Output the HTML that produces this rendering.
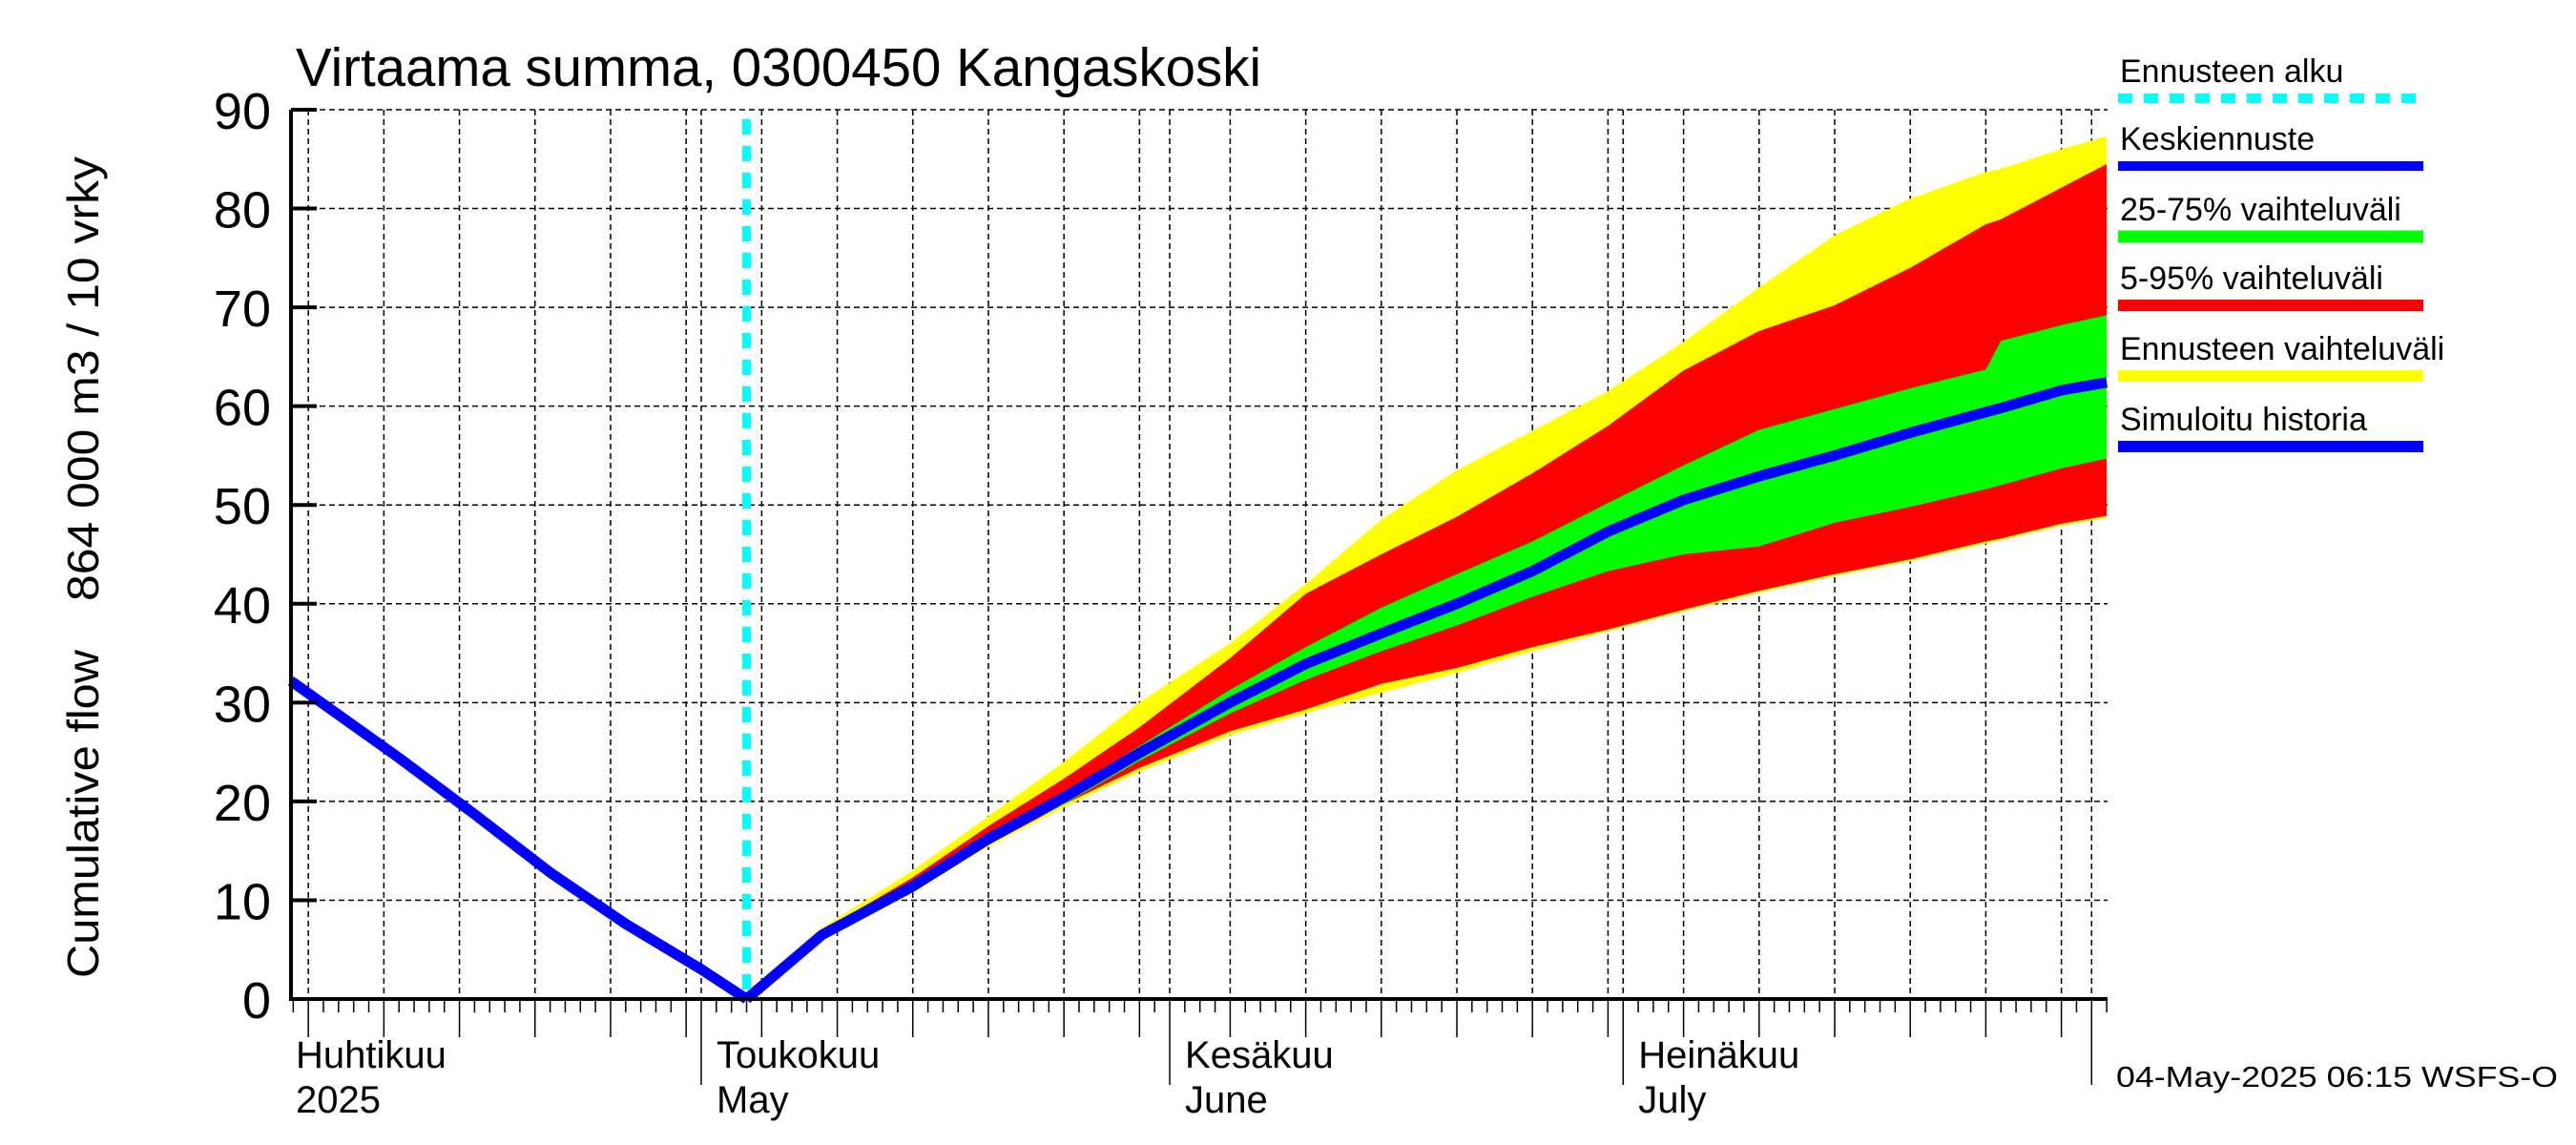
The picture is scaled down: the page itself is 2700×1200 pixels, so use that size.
<!DOCTYPE html>
<html><head><meta charset="utf-8"><style>
html,body{margin:0;padding:0;background:#fff;}
svg{display:block;font-family:"Liberation Sans",sans-serif;}
</style></head><body>
<svg id="chart" width="2700" height="1200" viewBox="0 0 2700 1200" xmlns="http://www.w3.org/2000/svg">
<rect width="2700" height="1200" fill="#fff"/>
<text x="310" y="90" font-size="57" textLength="1012" lengthAdjust="spacingAndGlyphs">Virtaama summa, 0300450 Kangaskoski</text>
<text transform="translate(103,1025) rotate(-90)" font-size="46" textLength="344" lengthAdjust="spacingAndGlyphs">Cumulative flow</text>
<text transform="translate(103,630) rotate(-90)" font-size="46" textLength="466" lengthAdjust="spacingAndGlyphs">864 000 m3 / 10 vrky</text>
<g id="grid"></g>
<g id="bands"></g>
<g id="lines"></g>
<g id="axes"></g>
<g id="legend"></g>
<text x="2218" y="1139" font-size="31" textLength="463" lengthAdjust="spacingAndGlyphs">04-May-2025 06:15 WSFS-O</text>
</svg>
<script>
// days since April 1, 2025
const histDays = [2.85, 10, 15, 20, 25, 30, 33];
const histValues = [32.2, 24.4, 18.7, 12.8, 7.6, 3, 0];
const fcDays = [33, 38, 44, 49, 54, 59, 65, 70, 75, 80, 85, 90, 95, 100, 105, 110, 115, 116, 120, 123];
const yellowMax = [0, 7.2, 13, 18.5, 24, 30, 36, 42, 48.5, 53.5, 57.5, 61.5, 66.5, 72, 77.3, 81, 83.7, 84, 86, 87.3];
const p95 = [0, 6.9, 12.3, 17.5, 22.3, 27.5, 34.5, 41, 45, 48.8, 53.2, 58, 63.6, 67.6, 70.2, 74, 78.4, 78.9, 82.1, 84.5];
const p75 = [0, 6.7, 11.8, 16.6, 20.8, 25.6, 31.3, 35.6, 39.6, 43, 46.3, 50.2, 54, 57.6, 59.7, 61.8, 63.7, 66.6, 68.2, 69.2];
const median = [0, 6.5, 11.4, 16.2, 20.4, 24.9, 30, 33.9, 37, 40, 43.3, 47.3, 50.5, 52.9, 55, 57.3, 59.4, 59.8, 61.6, 62.4];
const p25 = [0, 6.4, 11.1, 15.8, 19.7, 24.1, 28.9, 32.3, 35.2, 37.8, 40.7, 43.3, 45, 45.8, 48.2, 49.8, 51.6, 52, 53.7, 54.7];
const p5 = [0, 6.3, 10.9, 15.6, 19.7, 23.4, 27.1, 29.3, 31.9, 33.5, 35.6, 37.4, 39.4, 41.3, 43, 44.5, 46.3, 46.6, 48.1, 48.9];
const yellowMin = [0, 6.2, 10.8, 15.4, 19.4, 23, 26.7, 28.9, 31, 33, 35.2, 37.2, 39.2, 41.1, 42.8, 44.3, 46.1, 46.4, 47.9, 48.7];
const yTicks = [0, 10, 20, 30, 40, 50, 60, 70, 80, 90];
const monthStarts = [0, 30, 61, 91, 122];
const monthLabels = [["Huhtikuu","2025"],["Toukokuu","May"],["Kesäkuu","June"],["Heinäkuu","July"]];
const forecastStart = 33;

const NS = "http://www.w3.org/2000/svg";
const L = 305, R = 2209, T = 115, B = 1047;
const tMin = 2.85, tMax = 123;
const x = t => 735 + (t - 30) * 15.84;
const y = v => B - v * (B - T) / 90;
function mk(tag, attrs, parent) {
  const e = document.createElementNS(NS, tag);
  for (const k in attrs) e.setAttribute(k, attrs[k]);
  parent.appendChild(e);
  return e;
}
const grid = document.getElementById('grid'), bands = document.getElementById('bands'),
      lines = document.getElementById('lines'), axes = document.getElementById('axes'),
      legend = document.getElementById('legend');

yTicks.forEach(v => {
  if (v > 0) {
    const g = mk('line', {x1: L, x2: R, y1: y(v), y2: y(v), stroke: '#000', 'stroke-width': 1.5, 'stroke-dasharray': '6,4'}, grid);
    
    
  }
  const tk = mk('line', {x1: L, x2: L + 27, y1: y(v), y2: y(v), stroke: '#000', 'stroke-width': 4}, axes);
  
  
  const lb = mk('text', {x: 284, y: y(v) + 20, 'text-anchor': 'end', 'font-size': 54}, axes);
  lb.textContent = v;
  
  
});

const dayOfMonth = t => { let m = 0; for (let i = 0; i < monthStarts.length; i++) if (t >= monthStarts[i]) m = i; return [m, t - monthStarts[m] + 1]; };
for (let t = 3; t <= 123; t++) {
  const [m, d] = dayOfMonth(t);
  const isMonth = d === 1;
  const isFive = d % 5 === 0 && d < 31;
  const xx = x(t);
  if (xx < L || xx > R + 1) continue;
  let len = 14;
  if (isMonth) len = 90; else if (isFive) len = 40;
  const tk = mk('line', {x1: xx, x2: xx, y1: B, y2: B + len, stroke: '#000', 'stroke-width': 1.5}, axes);
  
  
  if (isMonth || isFive) {
    const g = mk('line', {x1: xx, x2: xx, y1: T, y2: B, stroke: '#000', 'stroke-width': 1.5, 'stroke-dasharray': '6,4'}, grid);
    
    
  }
}
monthLabels.forEach((lab, i) => {
  const xx = i === 0 ? 310 : x(monthStarts[i]) + 16;
  const a = mk('text', {x: xx, y: 1119, 'font-size': 40}, axes);
  a.textContent = lab[0];
  
  
  const b = mk('text', {x: xx, y: 1166, 'font-size': 40}, axes);
  b.textContent = lab[1];
  
  
});

function band(upper, lower, color, name) {
  let d = '';
  fcDays.forEach((t, i) => d += (i ? 'L' : 'M') + x(t).toFixed(1) + ',' + y(upper[i]).toFixed(1));
  for (let i = fcDays.length - 1; i >= 0; i--) d += 'L' + x(fcDays[i]).toFixed(1) + ',' + y(lower[i]).toFixed(1);
  const p = mk('path', {d: d + 'Z', fill: color}, bands);
  
  
}
band(yellowMax, yellowMin, '#ffff00', 'forecast-range-band');
band(p95, p5, '#ff0000', 'band-5-95');
band(p75, p25, '#00ff00', 'band-25-75');

function poly(days, vals, name, w) {
  const pts = days.map((t, i) => x(Math.max(t, tMin)).toFixed(1) + ',' + y(vals[i]).toFixed(1)).join(' ');
  const p = mk('polyline', {points: pts, fill: 'none', stroke: '#0000ff', 'stroke-width': w, 'stroke-linejoin': 'round'}, lines);
  
  
}
poly(histDays, histValues, 'simulated-history-line', 11);
poly(fcDays, median, 'median-forecast-line', 11);

const fs = mk('line', {x1: x(forecastStart), x2: x(forecastStart), y1: T + 10, y2: B, stroke: '#00ffff', 'stroke-width': 9, 'stroke-dasharray': '16,12'}, lines);



const ax1 = mk('line', {x1: L, x2: L, y1: T, y2: B + 2, stroke: '#000', 'stroke-width': 4}, axes);


const ax2 = mk('line', {x1: L - 2, x2: R, y1: B, y2: B, stroke: '#000', 'stroke-width': 4}, axes);



const legItems = [
  ['Ennusteen alku', '#00ffff', 10, true, 86, 103],
  ['Keskiennuste', '#0000ff', 10, false, 157, 174],
  ['25-75% vaihteluväli', '#00ff00', 13, false, 231, 248],
  ['5-95% vaihteluväli', '#ff0000', 12, false, 303, 320],
  ['Ennusteen vaihteluväli', '#ffff00', 12, false, 377, 394],
  ['Simuloitu historia', '#0000ff', 12, false, 451, 468]
];
legItems.forEach(it => {
  const tx = mk('text', {x: 2222, y: it[4], 'font-size': 34}, legend);
  tx.textContent = it[0];
  
  
  const ln = mk('line', {x1: 2220, x2: 2540, y1: it[5], y2: it[5], stroke: it[1], 'stroke-width': it[2]}, legend);
  if (it[3]) ln.setAttribute('stroke-dasharray', '15,12');
  
  
});
</script>
</body></html>
